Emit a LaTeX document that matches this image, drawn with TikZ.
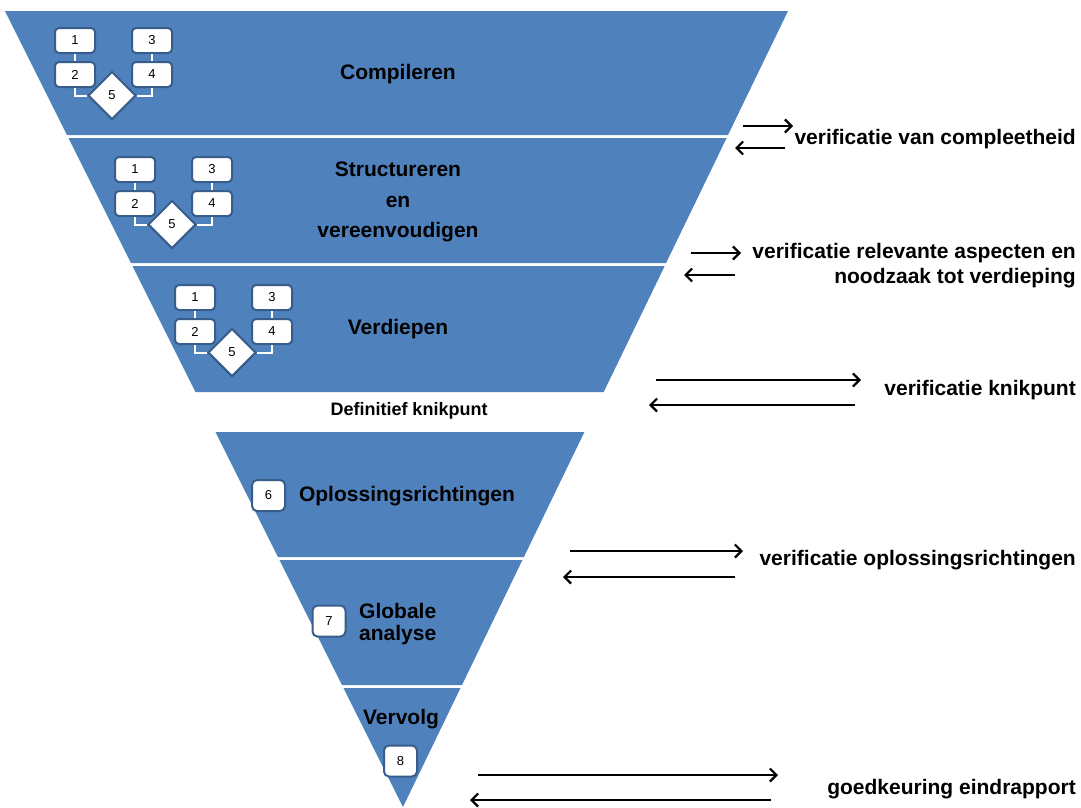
\documentclass[tikz,border=0pt]{standalone}
\usepackage{fontspec}
\setmainfont{Liberation Sans}
\usetikzlibrary{shapes.geometric,arrows.meta}
\definecolor{bandblue}{HTML}{4F81BD}
\definecolor{bord}{HTML}{385D8A}
\tikzset{
  bandfill/.style={fill=bandblue, draw=none},
  lbl/.style={font=\fontsize{21}{25}\selectfont\bfseries, inner sep=0pt},
  rlbl/.style={lbl, anchor=east, align=right},
  sbox/.style={draw=bord, line width=2pt, fill=white, rounded corners=4pt,
    minimum width=40pt, minimum height=25pt, inner sep=0pt,
    font=\fontsize{13}{15}\selectfont},
  nbox/.style={sbox, minimum width=33pt, minimum height=31pt, rounded corners=5pt},
  sdia/.style={diamond, draw=bord, line width=2pt, fill=white,
    minimum width=48pt, minimum height=48pt, inner sep=0pt,
    font=\fontsize{13}{15}\selectfont},
  conn/.style={draw=white, line width=2pt},
  arr/.style={line width=2pt, -{Straight Barb[length=6.5pt,width=13pt,line width=2.2pt]}},
  cluster/.pic={
    \node[sbox] (-1) at (0,0) {1};
    \node[sbox] (-2) at (0,34) {2};
    \node[sbox] (-3) at (77,0) {3};
    \node[sbox] (-4) at (77,34) {4};
    \node[sdia] (-5) at (37,55) {5};
    \draw[conn] (-1) -- (-2);
    \draw[conn] (-3) -- (-4);
    \draw[conn] (-2.south) |- (-5.west);
    \draw[conn] (-4.south) |- (-5.east);
  }
}
\begin{document}
\begin{tikzpicture}[x=1pt,y=-1pt]
\useasboundingbox (0,0) rectangle (1081,807);
% funnel bands
\fill[bandfill] (5,11) -- (788,11) -- (728,135) -- (67,135) -- cycle;
\fill[bandfill] (68.5,138) -- (726.6,138) -- (666.1,263) -- (131,263) -- cycle;
\fill[bandfill] (132.5,266) -- (664.7,266) -- (603.7,392) -- (195.5,392) -- cycle;
\fill[bandfill] (215.5,432) -- (584.4,432) -- (523.9,557) -- (278,557) -- cycle;
\fill[bandfill] (279.5,560) -- (522.4,560) -- (462,685) -- (342,685) -- cycle;
\fill[bandfill] (343.5,688) -- (460.5,688) -- (403,807) -- cycle;
% clusters
\pic (c1) at (75,40.5) {cluster};
\pic (c2) at (135,169.5) {cluster};
\pic (c3) at (195,297.5) {cluster};
% band texts
\node[lbl] (t1) at (398,74) {Compileren};
\node[lbl, align=center, font=\fontsize{21}{30.5}\selectfont\bfseries] (t2) at (398,202) {Structureren\\en\\vereenvoudigen};
\node[lbl] (t3) at (398,329) {Verdiepen};
\node[lbl, font=\fontsize{18}{22}\selectfont\bfseries] (tk) at (409,411) {Definitief knikpunt};
\node[nbox] (n6) at (268.5,495.5) {6};
\node[lbl] (t4) at (407,496) {Oplossingsrichtingen};
\node[nbox] (n7) at (329,621) {7};
\node[lbl, anchor=west, align=left, font=\fontsize{21}{22}\selectfont\bfseries] (t5) at (359,624) {Globale\\analyse};
\node[lbl] (t6) at (401,719) {Vervolg};
\node[nbox] (n8) at (400.5,761) {8};
% right labels
\node[rlbl] (r1) at (1076,139) {verificatie van compleetheid};
\node[rlbl, font=\fontsize{21}{25}\selectfont\bfseries] (r2) at (1076,266) {verificatie relevante aspecten en\\noodzaak tot verdieping};
\node[rlbl] (r3) at (1076,390) {verificatie knikpunt};
\node[rlbl] (r4) at (1076,560) {verificatie oplossingsrichtingen};
\node[rlbl] (r5) at (1076,789) {goedkeuring eindrapport};
% arrows
\coordinate (a1s) at (743,126); \coordinate (a1e) at (793,126);
\coordinate (b1s) at (785,148); \coordinate (b1e) at (735,148);
\coordinate (a2s) at (691,253); \coordinate (a2e) at (741,253);
\coordinate (b2s) at (735,275); \coordinate (b2e) at (684,275);
\coordinate (a3s) at (656,380); \coordinate (a3e) at (861,380);
\coordinate (b3s) at (855,405); \coordinate (b3e) at (649,405);
\coordinate (a4s) at (570,551); \coordinate (a4e) at (743,551);
\coordinate (b4s) at (735,577); \coordinate (b4e) at (563,577);
\coordinate (a5s) at (478,775); \coordinate (a5e) at (778,775);
\coordinate (b5s) at (771,800); \coordinate (b5e) at (470,800);
\draw[arr] (a1s) -- (a1e);
\draw[arr] (b1s) -- (b1e);
\draw[arr] (a2s) -- (a2e);
\draw[arr] (b2s) -- (b2e);
\draw[arr] (a3s) -- (a3e);
\draw[arr] (b3s) -- (b3e);
\draw[arr] (a4s) -- (a4e);
\draw[arr] (b4s) -- (b4e);
\draw[arr] (a5s) -- (a5e);
\draw[arr] (b5s) -- (b5e);
\end{tikzpicture}
\end{document}
